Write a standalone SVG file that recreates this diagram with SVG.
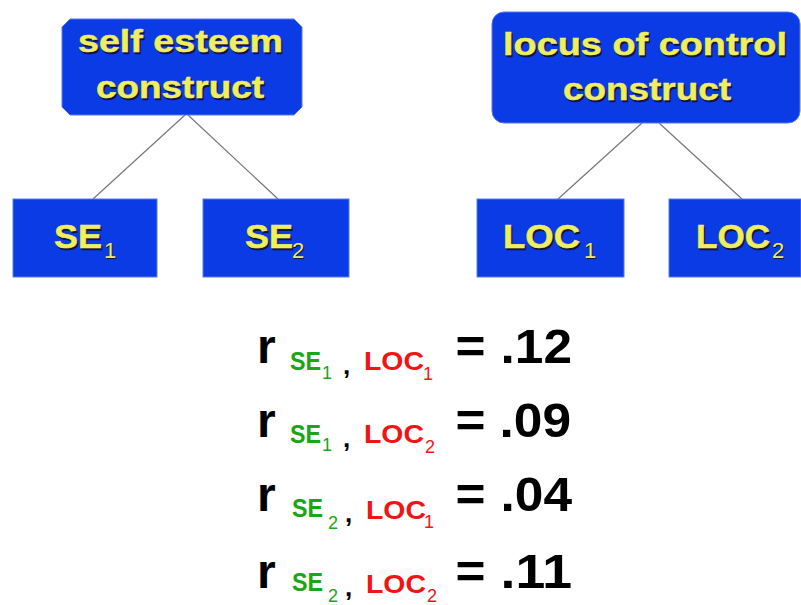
<svg xmlns="http://www.w3.org/2000/svg" width="801" height="605" viewBox="0 0 801 605">
<style>
.box{fill:#0a3be4;stroke:#5a78f0;stroke-width:1}
.lbl{font-family:"Liberation Sans",Arial,sans-serif;font-weight:bold;fill:#eeee5e;stroke:#eeee5e;stroke-width:0.5}
.sh{font-family:"Liberation Sans",Arial,sans-serif;font-weight:bold;fill:#14143a;stroke:#14143a;stroke-width:0.5}
.subl{font-family:"Liberation Sans",Arial,sans-serif;font-weight:normal;fill:#eeee5e}
.subs{font-family:"Liberation Sans",Arial,sans-serif;font-weight:normal;fill:#14143a}
.eq{font-family:"Liberation Sans",Arial,sans-serif;font-weight:bold;font-size:48px;fill:#000}
.g{font-family:"Liberation Sans",Arial,sans-serif;font-weight:bold;font-size:25px;fill:#19a619}
.gs{font-family:"Liberation Sans",Arial,sans-serif;font-weight:normal;font-size:18px;fill:#19a619}
.rd{font-family:"Liberation Sans",Arial,sans-serif;font-weight:bold;font-size:25px;fill:#f01414}
.rs{font-family:"Liberation Sans",Arial,sans-serif;font-weight:normal;font-size:18px;fill:#f01414}
.cm{font-family:"Liberation Sans",Arial,sans-serif;font-weight:bold;font-size:26px;fill:#000}
.conn line{stroke:#777;stroke-width:1.2}
</style>
<rect width="801" height="605" fill="#fff"/>
<g class="conn" id="connectors">
<line x1="185" y1="115" x2="93" y2="199"/>
<line x1="188" y1="115" x2="278" y2="199"/>
<line x1="642" y1="123" x2="558" y2="199"/>
<line x1="659" y1="123" x2="742" y2="199"/>
</g>
<g id="self-esteem">
<polygon class="box" points="70,19 294,19 302,27 302,107 294,115 70,115 62,107 62,27"/>
<text class="sh" x="79.5" y="53.5" font-size="32" textLength="205" lengthAdjust="spacingAndGlyphs">self esteem</text>
<text class="lbl" x="78" y="52" font-size="32" textLength="205" lengthAdjust="spacingAndGlyphs">self esteem</text>
<text class="sh" x="97.5" y="99.5" font-size="32" textLength="168" lengthAdjust="spacingAndGlyphs">construct</text>
<text class="lbl" x="96" y="98" font-size="32" textLength="168" lengthAdjust="spacingAndGlyphs">construct</text>
</g>
<g id="locus-of-control">
<rect class="box" x="492" y="12" width="308" height="111" rx="12"/>
<text class="sh" x="504.5" y="56.5" font-size="32" textLength="284" lengthAdjust="spacingAndGlyphs">locus of control</text>
<text class="lbl" x="503" y="55" font-size="32" textLength="284" lengthAdjust="spacingAndGlyphs">locus of control</text>
<text class="sh" x="564.5" y="101.5" font-size="32" textLength="168" lengthAdjust="spacingAndGlyphs">construct</text>
<text class="lbl" x="563" y="100" font-size="32" textLength="168" lengthAdjust="spacingAndGlyphs">construct</text>
</g>
<g id="se1">
<rect class="box" x="13" y="199" width="144" height="78"/>
<text class="sh" x="55.5" y="249.5" font-size="33" textLength="48" lengthAdjust="spacingAndGlyphs">SE</text>
<text class="lbl" x="54" y="248" font-size="33" textLength="48" lengthAdjust="spacingAndGlyphs">SE</text>
<text class="subs" x="105" y="259" font-size="22">1</text>
<text class="subl" x="104" y="258" font-size="22">1</text>
</g>
<g id="se2">
<rect class="box" x="203" y="199" width="146" height="78"/>
<text class="sh" x="246.5" y="249.5" font-size="33" textLength="48" lengthAdjust="spacingAndGlyphs">SE</text>
<text class="lbl" x="245" y="248" font-size="33" textLength="48" lengthAdjust="spacingAndGlyphs">SE</text>
<text class="subs" x="293" y="259" font-size="22">2</text>
<text class="subl" x="292" y="258" font-size="22">2</text>
</g>
<g id="loc1">
<rect class="box" x="477" y="199" width="147" height="78"/>
<text class="sh" x="504.5" y="249.5" font-size="33" textLength="77" lengthAdjust="spacingAndGlyphs">LOC</text>
<text class="lbl" x="503" y="248" font-size="33" textLength="77" lengthAdjust="spacingAndGlyphs">LOC</text>
<text class="subs" x="585" y="259" font-size="22">1</text>
<text class="subl" x="584" y="258" font-size="22">1</text>
</g>
<g id="loc2">
<rect class="box" x="669" y="199" width="132" height="78"/>
<text class="sh" x="697.5" y="249.5" font-size="33" textLength="74" lengthAdjust="spacingAndGlyphs">LOC</text>
<text class="lbl" x="696" y="248" font-size="33" textLength="74" lengthAdjust="spacingAndGlyphs">LOC</text>
<text class="subs" x="773" y="259" font-size="22">2</text>
<text class="subl" x="772" y="258" font-size="22">2</text>
</g>
<g id="correlations">
<g transform="translate(0,363)">
<text class="eq" x="257" y="0">r</text>
<text class="g" x="290" y="7" textLength="31" lengthAdjust="spacingAndGlyphs">SE</text>
<text class="gs" x="322" y="16">1</text>
<text class="cm" x="343" y="11">,</text>
<text class="rd" x="364" y="7" textLength="60" lengthAdjust="spacingAndGlyphs">LOC</text>
<text class="rs" x="423" y="17">1</text>
<text class="eq" x="455.5" y="0" textLength="30" lengthAdjust="spacingAndGlyphs">=</text>
<text class="eq" x="500.5" y="0" textLength="71.5" lengthAdjust="spacingAndGlyphs">.12</text>
</g>
<g transform="translate(0,437)">
<text class="eq" x="257" y="0">r</text>
<text class="g" x="290" y="6" textLength="31" lengthAdjust="spacingAndGlyphs">SE</text>
<text class="gs" x="322" y="14">1</text>
<text class="cm" x="343" y="10">,</text>
<text class="rd" x="364" y="6" textLength="60" lengthAdjust="spacingAndGlyphs">LOC</text>
<text class="rs" x="425" y="16">2</text>
<text class="eq" x="455.5" y="0" textLength="30" lengthAdjust="spacingAndGlyphs">=</text>
<text class="eq" x="499.5" y="0" textLength="71.5" lengthAdjust="spacingAndGlyphs">.09</text>
</g>
<g transform="translate(0,511)">
<text class="eq" x="257" y="0">r</text>
<text class="g" x="292" y="6" textLength="31" lengthAdjust="spacingAndGlyphs">SE</text>
<text class="gs" x="328" y="18">2</text>
<text class="cm" x="345" y="11">,</text>
<text class="rd" x="366" y="8" textLength="60" lengthAdjust="spacingAndGlyphs">LOC</text>
<text class="rs" x="424" y="17">1</text>
<text class="eq" x="455.5" y="0" textLength="30" lengthAdjust="spacingAndGlyphs">=</text>
<text class="eq" x="500.5" y="0" textLength="71.5" lengthAdjust="spacingAndGlyphs">.04</text>
</g>
<g transform="translate(0,588)">
<text class="eq" x="257" y="0">r</text>
<text class="g" x="292" y="3" textLength="31" lengthAdjust="spacingAndGlyphs">SE</text>
<text class="gs" x="328" y="14">2</text>
<text class="cm" x="345" y="8">,</text>
<text class="rd" x="366" y="5" textLength="60" lengthAdjust="spacingAndGlyphs">LOC</text>
<text class="rs" x="427" y="14">2</text>
<text class="eq" x="455.5" y="0" textLength="30" lengthAdjust="spacingAndGlyphs">=</text>
<text class="eq" x="500.5" y="0" textLength="71.5" lengthAdjust="spacingAndGlyphs">.11</text>
</g>
</g>
</svg>
